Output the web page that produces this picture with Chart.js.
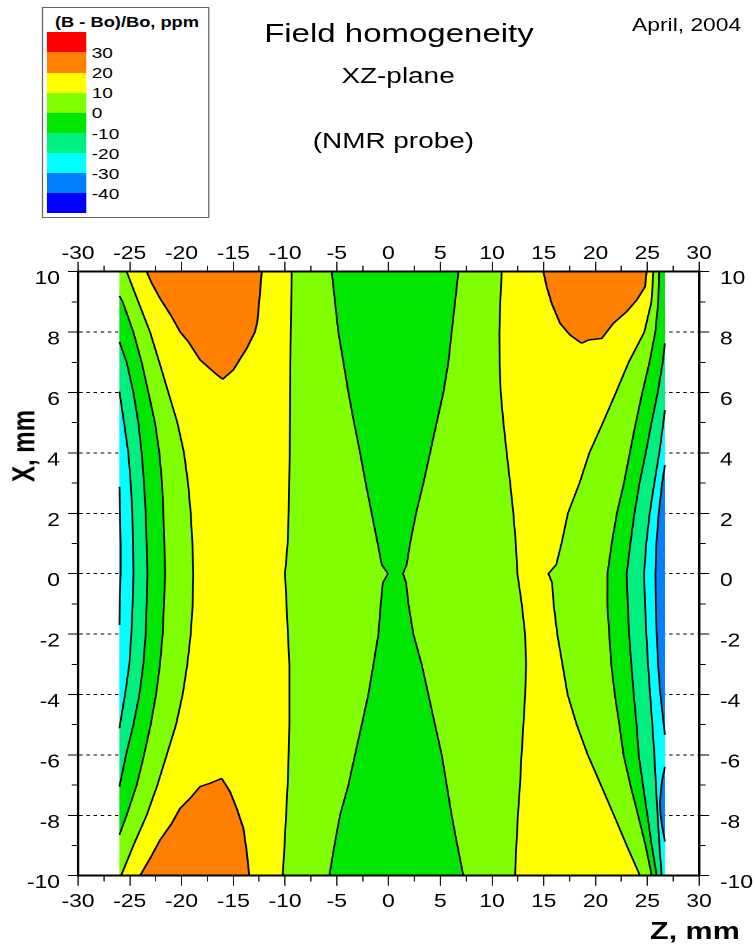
<!DOCTYPE html>
<html>
<head>
<meta charset="utf-8">
<title>Field homogeneity, XZ-plane</title>
<script src="https://cdn.jsdelivr.net/npm/chart.js@4.4.1/dist/chart.umd.min.js"></script>
<style>
  html, body { margin: 0; padding: 0; background: #fff; overflow: hidden; }
  /* the original picture is stretched sideways, so the whole page is drawn narrow and widened */
  #page { position: absolute; left: 0; top: 0; width: 595px; height: 946px;
          transform-origin: 0 0; transform: scaleX(1.26891);
          font-family: "Liberation Sans", Arial, sans-serif; color: #000; }
  #field { position: absolute; left: 0; top: 0; width: 595px; height: 946px; }
  .txt { position: absolute; white-space: nowrap; line-height: 1; }
  .ctr { transform: translateX(-50%); }
  #legend { position: absolute; left: 32.9px; top: 7.3px; width: 132.6px; height: 211px;
            box-sizing: border-box; border: 1px solid #666; background: #fff; }
  .swatch { position: absolute; left: 36.8px; width: 31px; }
</style>
</head>
<body>
<div id="page">
  <canvas id="field" width="595" height="946"></canvas>
  <div id="legend"></div>
  <div class="txt ctr" style="left:100.1px; top:15.4px; font-size:14.4px; font-weight:bold;">(B - Bo)/Bo, ppm</div>
  <div class="txt ctr" style="left:314.4px; top:19.6px; font-size:26px;">Field homogeneity</div>
  <div class="txt ctr" style="left:313.7px; top:65.4px; font-size:22px;">XZ-plane</div>
  <div class="txt ctr" style="left:310px; top:130.4px; font-size:22px;">(NMR probe)</div>
  <div class="txt" style="left:498.1px; top:16px; font-size:18px;">April, 2004</div>
  <div class="txt" style="left:512.3px; top:919px; font-size:24px; font-weight:bold;">Z, mm</div>
  <div class="txt" style="left:18.9px; top:446px; font-size:24px; font-weight:bold; transform: translate(-50%, -50%) rotate(-90deg);">X, mm</div>
</div>
<script>
// colour scale, top to bottom, and the level printed between each pair
const levels = [30, 20, 10, 0, -10, -20, -30, -40];
const levelColors = ['#ff0000', '#ff8000', '#ffff00', '#80ff00', '#00e600', '#00f080', '#00ffff', '#0080ff', '#0000ff'];
const RED = 0, ORANGE = 1, YELLOW = 2, LIME = 3, GREEN = 4, MINT = 5, CYAN = 6, AZURE = 7;

// axis ticks
const zMajor = [-30, -25, -20, -15, -10, -5, 0, 5, 10, 15, 20, 25, 30];
const zMinor = [-27.5, -22.5, -17.5, -12.5, -7.5, -2.5, 2.5, 7.5, 12.5, 17.5, 22.5, 27.5];
const xMajor = [-10, -8, -6, -4, -2, 0, 2, 4, 6, 8, 10];
const xMinor = [-9, -7, -5, -3, -1, 1, 3, 5, 7, 9];

// measured area in Z (mm)
const zLeftEdge = -26.0;
const zRightEdge = 26.7;

// contour lines, [X mm, Z mm]
const c30Left = [[-1.7, -26.0], [-1, -25.97], [0, -25.88], [1, -25.88], [2, -25.94], [2.88, -26.0]];
const c20Left = [[-5.12, -26.0], [-4, -25.46], [-3, -25.04], [-2, -24.85], [-1, -24.72], [0, -24.65],
  [1, -24.69], [2, -24.75], [3, -24.91], [4, -25.14], [5, -25.55], [6.03, -26.0]];
const c10Left = [[-7.05, -26.0], [-6, -25.36], [-5, -24.65], [-4, -24.07], [-3, -23.69], [-2, -23.46],
  [-1, -23.37], [0, -23.30], [1, -23.37], [2, -23.46], [3, -23.62], [4, -23.85], [5, -24.17],
  [6, -24.65], [7, -25.30], [7.68, -26.0]];
const c0Left = [[-8.65, -26.0], [-8, -25.30], [-7, -24.33], [-6, -23.62], [-5, -22.98], [-4, -22.46],
  [-3, -22.08], [-2, -21.82], [-1, -21.69], [0, -21.59], [1, -21.66], [2, -21.75], [3, -21.88],
  [4, -22.14], [5, -22.56], [6, -23.20], [7, -23.85], [8, -24.65], [9, -25.68], [9.2, -26.0]];
const p10Left = [[-10, -25.84], [-9, -24.65], [-8, -23.37], [-7, -22.33], [-6, -21.43], [-5, -20.53],
  [-4, -19.89], [-3, -19.44], [-2, -19.11], [-1, -18.92], [0, -18.86], [1, -18.95], [2, -19.11],
  [3, -19.37], [4, -19.76], [5, -20.40], [6, -21.27], [7, -22.14], [8, -23.04], [9, -24.17], [10, -25.30]];
const p10Mid = [[-10, -10.22], [-9, -10.05], [-8, -9.9], [-7, -9.75], [-6, -9.65], [-5, -9.58],
  [-4, -9.58], [-3, -9.58], [-2, -9.72], [-1, -9.86], [0, -10.0], [1, -9.75], [2, -9.65], [3, -9.60],
  [4, -9.55], [5, -9.52], [6, -9.50], [7, -9.48], [8, -9.45], [9, -9.40], [10, -9.36]];
const c0MidLeft = [[-10, -5.72], [-9, -5.23], [-8, -4.69], [-7, -3.88], [-6, -3.24], [-5, -2.59],
  [-4, -1.95], [-3, -1.46], [-2, -0.98], [-1, -0.75], [-0.3, -0.55], [0, -0.05], [0.3, -0.66],
  [1, -1.05], [2, -1.63], [3, -2.21], [4, -2.75], [5, -3.33], [6, -3.88], [7, -4.36], [8, -4.85],
  [9, -5.17], [10, -5.49]];
const c0MidRight = [[-10, 7.23], [-9, 6.65], [-8, 6.10], [-7, 5.62], [-6, 5.14], [-5, 4.49],
  [-4, 3.85], [-3, 3.20], [-2, 2.40], [-1, 1.92], [-0.3, 1.7], [0, 1.4], [0.3, 1.75], [1, 2.08],
  [2, 2.66], [3, 3.37], [4, 4.01], [5, 4.65], [6, 5.30], [7, 5.78], [8, 6.10], [9, 6.43], [10, 6.75]];
const p10MidRight = [[-10, 12.22], [-9, 12.35], [-8, 12.5], [-7, 12.7], [-6, 12.85], [-5, 13.03],
  [-4, 13.2], [-3, 13.29], [-2, 13.19], [-1, 12.87], [0, 12.45], [1, 12.3], [2, 12.06], [3, 11.75],
  [4, 11.42], [5, 11.1], [6, 10.84], [7, 10.73], [8, 10.71], [9, 10.8], [10, 10.93]];
const p10Right = [[-10, 24.30], [-9, 23.01], [-8, 21.78], [-7, 20.52], [-6, 19.25], [-5, 18.18],
  [-4, 17.3], [-3, 16.80], [-2, 16.3], [-1, 15.95], [-0.3, 15.8], [0, 15.45], [0.3, 16.2], [1, 16.71],
  [2, 17.33], [3, 18.45], [4, 19.40], [5, 20.71], [6, 21.97], [7, 23.20], [8, 24.71], [9, 25.40], [10, 25.59]];
const c0Right = [[-10, 25.43], [-9, 24.83], [-8, 24.11], [-7, 23.37], [-6, 22.70], [-5, 22.30],
  [-4, 21.86], [-3, 21.52], [-2, 21.32], [-1, 21.14], [0, 21.15], [1, 21.56], [2, 22.06], [3, 22.74],
  [4, 23.31], [5, 23.89], [6, 24.52], [7, 25.21], [8, 25.77], [9, 26.06], [10, 26.14]];
const c10Right = [[-10, 25.91], [-9, 25.43], [-8, 25.01], [-7, 24.58], [-6, 24.17], [-5, 23.96],
  [-4, 23.69], [-3, 23.46], [-2, 23.24], [-1, 23.11], [0, 23.01], [1, 23.37], [2, 23.76], [3, 24.25],
  [4, 24.85], [5, 25.41], [6, 26.01], [7, 26.49], [7.63, 26.7]];
const c20Right = [[-10, 26.39], [-9, 26.17], [-8, 26.0], [-7, 25.83], [-6, 25.68], [-5, 25.49],
  [-4, 25.27], [-3, 25.07], [-2, 24.91], [-1, 24.78], [0, 24.69], [1, 24.90], [2, 25.23], [3, 25.68],
  [4, 26.16], [5, 26.55], [5.42, 26.7]];
const c30RightUpper = [[-5.34, 26.7], [-5, 26.59], [-4, 26.26], [-3, 26.04], [-2, 25.91], [-1, 25.81],
  [0, 25.78], [1, 25.88], [2, 26.10], [3, 26.43], [3.60, 26.7]];
const c30RightLower = [[-8.87, 26.7], [-8.4, 26.45], [-8.0, 26.28], [-7.6, 26.23], [-7.2, 26.3],
  [-6.8, 26.45], [-6.39, 26.7]];

// +20 ppm islands, each as left and right side from the tip to the plot edge
const islandTopLeftA = [[6.44, -16.02], [6.64, -16.76], [7.08, -18.21], [7.68, -19.34], [8.01, -20.14],
  [8.51, -20.95], [9.12, -22.08], [9.62, -22.88], [10, -23.37]];
const islandTopLeftB = [[6.44, -16.02], [6.75, -14.99], [7.46, -13.70], [8.01, -12.90], [8.35, -12.67],
  [9.06, -12.48], [10, -12.25]];
const islandBottomLeftA = [[-10, -24.01], [-9.43, -23.04], [-8.82, -22.08], [-8.27, -20.95], [-7.77, -20.14],
  [-7.44, -19.18], [-7.05, -18.21], [-6.94, -17.25], [-6.78, -16.12]];
const islandBottomLeftB = [[-10, -13.45], [-9.21, -13.70], [-8.43, -14.02], [-7.77, -14.67],
  [-7.22, -15.31], [-6.78, -16.12]];
const islandTopRightA = [[7.63, 18.66], [7.90, 17.54], [8.29, 16.57], [8.95, 15.76], [9.50, 15.28], [10, 14.96]];
const islandTopRightB = [[7.63, 18.66], [7.74, 19.31], [7.79, 20.60], [8.29, 21.72], [8.68, 23.01],
  [9.06, 23.98], [9.50, 24.78], [10, 24.94]];

// ---------- legend ----------
const page = document.getElementById('page');
levelColors.forEach((c, i) => {
  const s = document.createElement('div');
  s.className = 'swatch';
  s.style.top = (32.3 + i * 20.1) + 'px';
  s.style.height = '20.3px';
  s.style.background = c;
  page.appendChild(s);
});
levels.forEach((v, i) => {
  const t = document.createElement('div');
  t.className = 'txt';
  t.style.left = '72.3px';
  t.style.top = (32.3 + (i + 1) * 20.1 - 7.3) + 'px';
  t.style.fontSize = '15px';
  t.textContent = String(v);
  page.appendChild(t);
});

// ---------- chart ----------
// points go top to bottom so every line runs the same way for the filler
const toPoints = pts => pts.slice().sort((a, b) => b[0] - a[0]).map(([x, z]) => ({x: z, y: x}));

// a contour that leaves through the side runs on along the edge of the measured area
function alongEdge(pts, edge) {
  const out = pts.slice();
  const xs = out.map(p => p[0]);
  if (Math.min(...xs) > -10) out.push([-10, edge]);
  if (Math.max(...xs) < 10) out.push([10, edge]);
  return out;
}

const bands = [
  {line: [[-10, zLeftEdge], [10, zLeftEdge]], color: null},
  {line: alongEdge(c30Left, zLeftEdge), color: AZURE},
  {line: alongEdge(c20Left, zLeftEdge), color: CYAN},
  {line: alongEdge(c10Left, zLeftEdge), color: MINT},
  {line: alongEdge(c0Left, zLeftEdge), color: GREEN},
  {line: p10Left, color: LIME},
  {line: p10Mid, color: YELLOW},
  {line: c0MidLeft, color: LIME},
  {line: c0MidRight, color: GREEN},
  {line: p10MidRight, color: LIME},
  {line: p10Right, color: YELLOW},
  {line: c0Right, color: LIME},
  {line: alongEdge(c10Right, zRightEdge), color: GREEN},
  {line: alongEdge(c20Right, zRightEdge), color: MINT},
  {line: alongEdge(c30RightLower.concat(c30RightUpper), zRightEdge), color: CYAN},
  {line: [[-10, zRightEdge], [10, zRightEdge]], color: AZURE}
];

const datasets = [];
bands.forEach((b, i) => {
  datasets.push({
    data: toPoints(b.line),
    fill: i === 0 ? false : '-1',
    backgroundColor: b.color === null ? 'rgba(0,0,0,0)' : levelColors[b.color],
    borderColor: 'rgba(0,0,0,0)',
    borderWidth: 0,
    order: 3
  });
});

[[islandTopLeftA, islandTopLeftB], [islandBottomLeftA, islandBottomLeftB], [islandTopRightA, islandTopRightB]]
  .forEach(([a, b]) => {
    datasets.push({data: toPoints(a), fill: false, borderColor: '#000', borderWidth: 1.5, order: 2});
    datasets.push({data: toPoints(b), fill: '-1', backgroundColor: levelColors[ORANGE],
      borderColor: '#000', borderWidth: 1.5, order: 2});
  });

[c30Left, c20Left, c10Left, c0Left, p10Left, p10Mid, c0MidLeft, c0MidRight, p10MidRight,
 p10Right, c0Right, c10Right, c20Right, c30RightUpper, c30RightLower].forEach(c => {
  datasets.push({data: toPoints(c), fill: false, borderColor: '#000', borderWidth: 1.4, order: 1});
});

const tickFont = {family: '"Liberation Sans", Arial, sans-serif', size: 18};
const isMajor = (ctx, list) => !ctx.tick || list.includes(ctx.tick.value);

function zAxis(position, size, pad) {
  const outerStart = position === 'top';
  return {
    type: 'linear', position, min: -30, max: 30,
    afterBuildTicks: s => { s.ticks = zMajor.concat(zMinor).sort((a, b) => a - b).map(v => ({value: v})); },
    afterFit: s => { s.height = size; },
    ticks: {
      autoSkip: false, maxRotation: 0, minRotation: 0, padding: pad, color: '#000', font: tickFont,
      callback: v => zMajor.includes(v) ? String(v) : ''
    },
    grid: {
      drawOnChartArea: false, tickLength: 10, tickColor: '#000', tickWidth: 0.9,
      tickBorderDash: ctx => isMajor(ctx, zMajor) ? [] : (outerStart ? [0, 4, 5, 100] : [5, 100])
    },
    border: {color: '#000', width: 2, z: 1}
  };
}

function xAxis(position, size, pad, gridOn) {
  const outerStart = position === 'left';
  return {
    type: 'linear', position, min: -10, max: 10,
    afterBuildTicks: s => { s.ticks = xMajor.concat(xMinor).sort((a, b) => a - b).map(v => ({value: v})); },
    afterFit: s => { s.width = size; },
    ticks: {
      autoSkip: false, padding: pad, color: '#000', font: tickFont, labelOffset: 7.5,
      callback: v => xMajor.includes(v) ? String(v) : ''
    },
    grid: {
      drawOnChartArea: gridOn, tickLength: 8, tickColor: '#000', tickWidth: 1, lineWidth: 1,
      color: ctx => (ctx.tick && xMajor.includes(ctx.tick.value) && Math.abs(ctx.tick.value) < 10) ? '#000' : 'rgba(0,0,0,0)',
      tickBorderDash: ctx => isMajor(ctx, xMajor) ? [] : (outerStart ? [0, 3, 4, 100] : [4, 100])
    },
    border: {color: '#000', width: 2, z: 1, dash: [2.8, 2.8]}
  };
}

new Chart(document.getElementById('field'), {
  type: 'line',
  data: {datasets},
  options: {
    indexAxis: 'y',
    responsive: false,
    devicePixelRatio: 2,
    animation: false,
    events: [],
    layout: {padding: 0},
    elements: {
      point: {radius: 0},
      line: {tension: 0.0001, borderJoinStyle: 'round'}
    },
    plugins: {legend: {display: false}, tooltip: {enabled: false}, title: {display: false}},
    scales: {
      x: zAxis('bottom', 70.3, 5.5),
      x2: zAxis('top', 271.7, -3),
      y: xAxis('left', 61.47, 6.2, true),
      y2: xAxis('right', 44.1, 8.5, false)
    }
  }
});
</script>
</body>
</html>
